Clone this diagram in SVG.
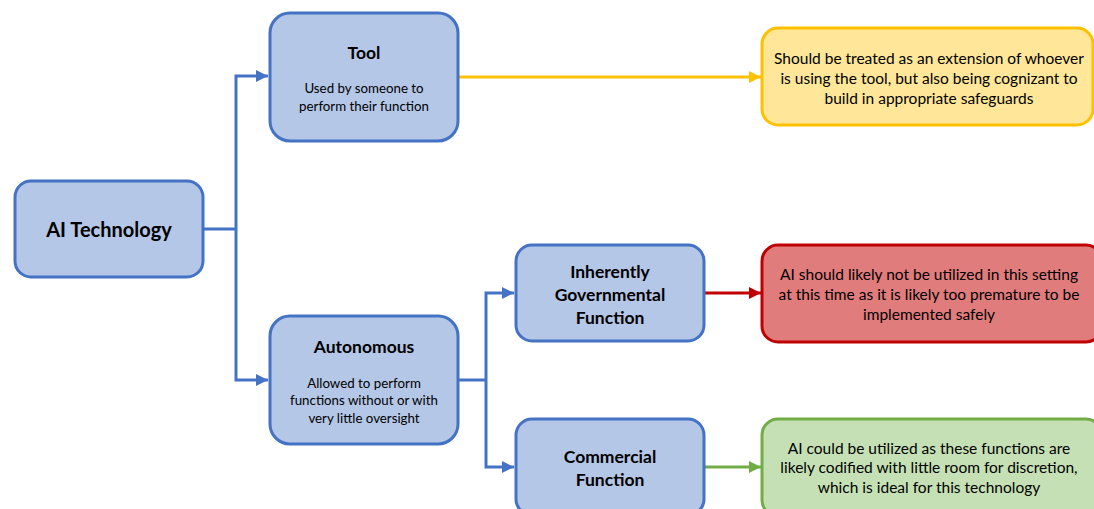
<svg xmlns="http://www.w3.org/2000/svg" width="1094" height="509" viewBox="0 0 1094 509">
<defs>
<marker id="ab" viewBox="0 0 10 10" refX="10" refY="5" markerWidth="4" markerHeight="4" markerUnits="strokeWidth" orient="auto"><path d="M0,0 L10,5 L0,10 z" fill="#4472C4"/></marker>
<marker id="ay" viewBox="0 0 10 10" refX="10" refY="5" markerWidth="4" markerHeight="4" markerUnits="strokeWidth" orient="auto"><path d="M0,0 L10,5 L0,10 z" fill="#FFC000"/></marker>
<marker id="ar" viewBox="0 0 10 10" refX="10" refY="5" markerWidth="4" markerHeight="4" markerUnits="strokeWidth" orient="auto"><path d="M0,0 L10,5 L0,10 z" fill="#C00000"/></marker>
<marker id="ag" viewBox="0 0 10 10" refX="10" refY="5" markerWidth="4" markerHeight="4" markerUnits="strokeWidth" orient="auto"><path d="M0,0 L10,5 L0,10 z" fill="#70AD47"/></marker>
</defs>
<style>
text{font-family:Lato,"Liberation Sans",sans-serif;fill:#000;text-anchor:middle;dominant-baseline:central}
.blue{fill:#B4C7E7;stroke:#4472C4;stroke-width:3}
.yel{fill:#FFE699;stroke:#FFC000;stroke-width:3}
.red{fill:#E07C7C;stroke:#C00000;stroke-width:3}
.grn{fill:#C5E0B4;stroke:#70AD47;stroke-width:3}
.t{font-weight:bold;font-size:17.5px}
.s{font-size:13.3px}
.o{font-size:15.5px}
.c{fill:none;stroke-width:3}
</style>
<g id="connectors">
<polyline class="c" stroke="#4472C4" points="203,229 236,229"/>
<polyline class="c" stroke="#4472C4" points="236,229 236,76 268,76" marker-end="url(#ab)"/>
<polyline class="c" stroke="#4472C4" points="236,229 236,380 268,380" marker-end="url(#ab)"/>
<polyline class="c" stroke="#4472C4" points="458,380 486,380"/>
<polyline class="c" stroke="#4472C4" points="486,380 486,293 514,293" marker-end="url(#ab)"/>
<polyline class="c" stroke="#4472C4" points="486,380 486,467 514,467" marker-end="url(#ab)"/>
<line class="c" stroke="#FFC000" x1="458" y1="77" x2="761" y2="77" marker-end="url(#ay)"/>
<line class="c" stroke="#C00000" x1="704" y1="293" x2="761" y2="293" marker-end="url(#ar)"/>
<line class="c" stroke="#70AD47" x1="704" y1="467" x2="761" y2="467" marker-end="url(#ag)"/>
</g>
<g id="ai">
<rect class="blue" x="15" y="181" width="188" height="96" rx="16"/>
<text x="109" y="229" style="font-weight:bold;font-size:20px">AI Technology</text>
</g>
<g id="tool">
<rect class="blue" x="270" y="13" width="188" height="128" rx="20"/>
<text class="t" x="364" y="52">Tool</text>
<text class="s" x="364" y="88">Used by someone to</text>
<text class="s" x="364" y="106">perform their function</text>
</g>
<g id="autonomous">
<rect class="blue" x="270" y="316" width="188" height="128" rx="20"/>
<text class="t" x="364" y="346">Autonomous</text>
<text class="s" x="364" y="383">Allowed to perform</text>
<text class="s" x="364" y="400">functions without or with</text>
<text class="s" x="364" y="418">very little oversight</text>
</g>
<g id="inherently">
<rect class="blue" x="516" y="245" width="188" height="96" rx="16"/>
<text class="t" x="610" y="271">Inherently</text>
<text class="t" x="610" y="294">Governmental</text>
<text class="t" x="610" y="317">Function</text>
</g>
<g id="commercial">
<rect class="blue" x="516" y="419" width="188" height="96" rx="16"/>
<text class="t" x="610" y="456">Commercial</text>
<text class="t" x="610" y="479">Function</text>
</g>
<g id="tool-outcome">
<rect class="yel" x="762" y="28" width="331" height="97" rx="16"/>
<text class="o" x="929" y="58">Should be treated as an extension of whoever</text>
<text class="o" x="929" y="78">is using the tool, but also being cognizant to</text>
<text class="o" x="929" y="98">build in appropriate safeguards</text>
</g>
<g id="gov-outcome">
<rect class="red" x="762" y="245" width="340" height="97" rx="16"/>
<text class="o" x="929" y="274">AI should likely not be utilized in this setting</text>
<text class="o" x="929" y="294">at this time as it is likely too premature to be</text>
<text class="o" x="929" y="314">implemented safely</text>
</g>
<g id="com-outcome">
<rect class="grn" x="762" y="419" width="340" height="97" rx="16"/>
<text class="o" x="929" y="448">AI could be utilized as these functions are</text>
<text class="o" x="929" y="467">likely codified with little room for discretion,</text>
<text class="o" x="929" y="487">which is ideal for this technology</text>
</g>
</svg>
